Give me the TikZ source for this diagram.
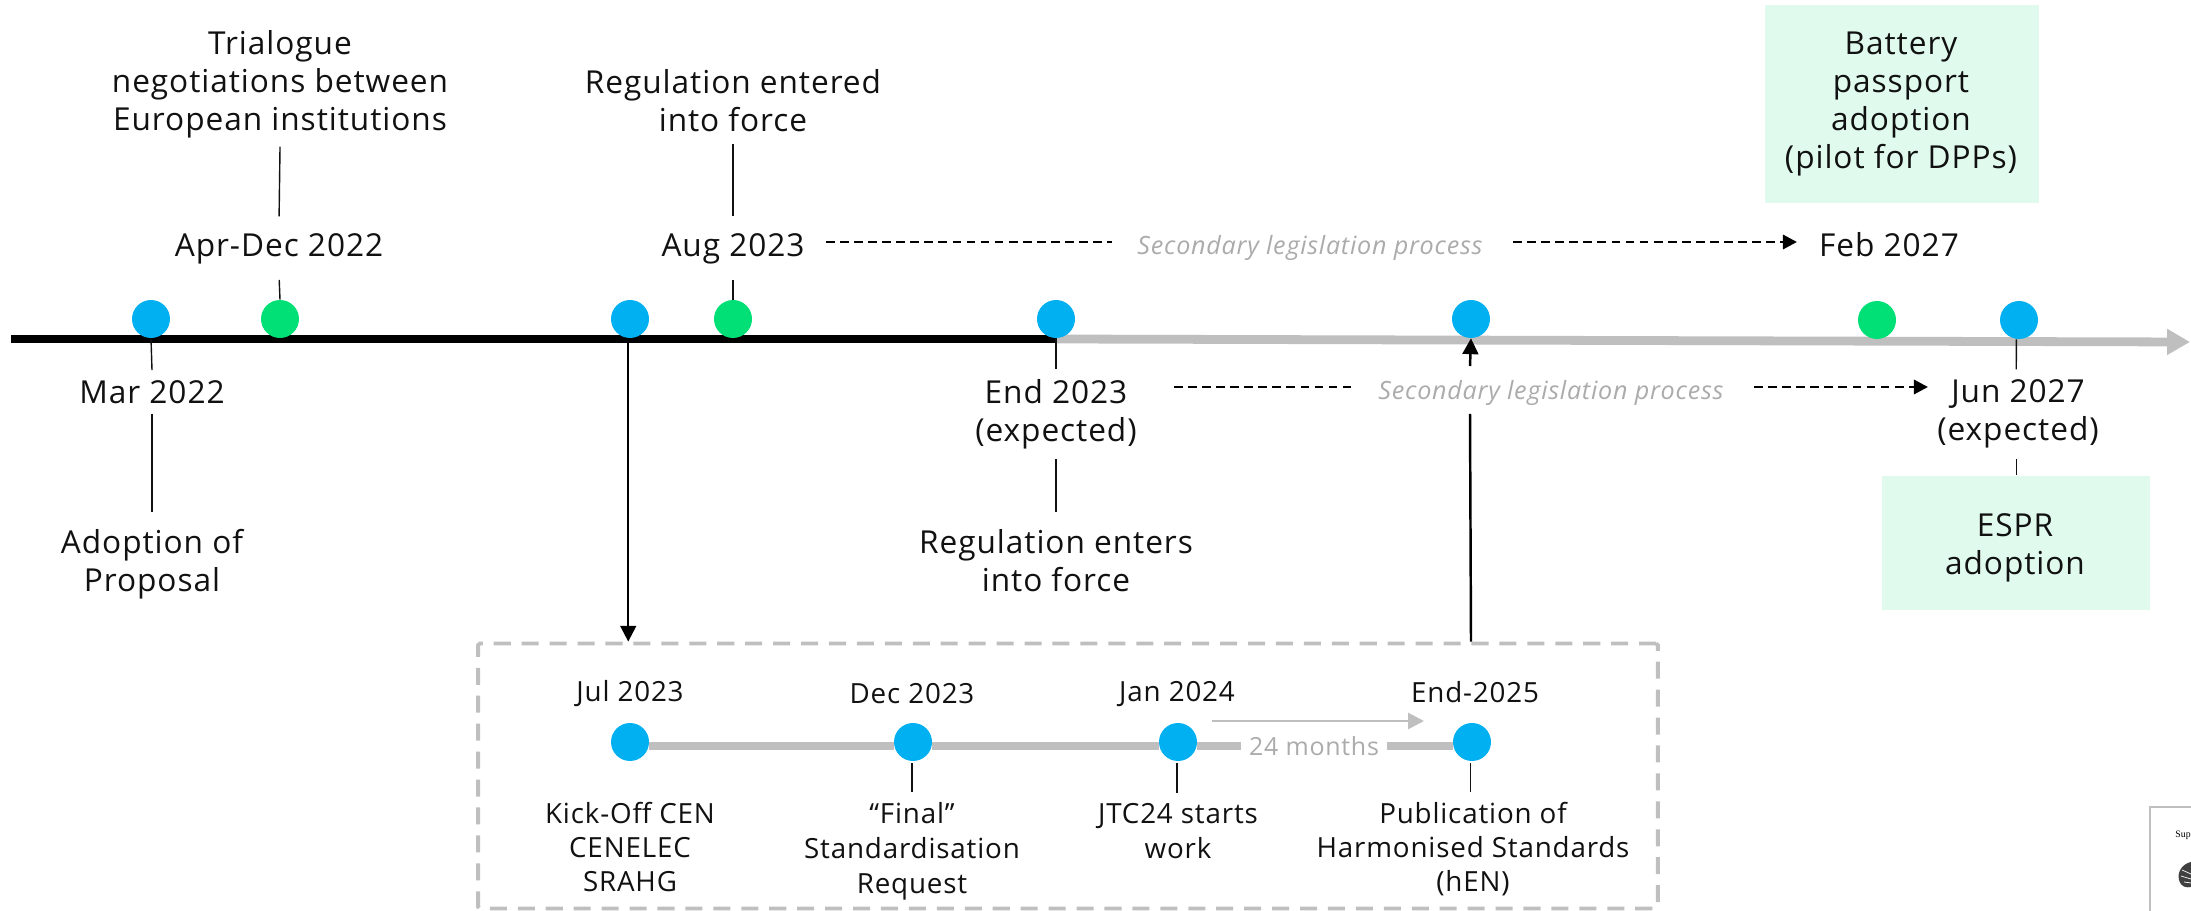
\documentclass[tikz,border=0pt]{standalone}
\usepackage{fontspec}
\setmainfont{Open Sans}[LetterSpace=3]
\usetikzlibrary{arrows.meta}
\definecolor{dotblue}{HTML}{00B0F0}
\definecolor{dotgreen}{HTML}{00E076}
\definecolor{linegrey}{HTML}{BFBFBF}
\definecolor{notegrey}{HTML}{ABABAB}
\definecolor{palegreen}{HTML}{E0FAEE}
\definecolor{inkblack}{HTML}{111111}
\tikzset{
    bluedot/.style={circle, fill=dotblue, minimum size=0.76cm, inner sep=0pt},
    greendot/.style={circle, fill=dotgreen, minimum size=0.76cm, inner sep=0pt},
    biglabel/.style={align=center, inner sep=0.2cm, text=inkblack, font=\fontsize{18}{21.7}\selectfont},
    smalllabel/.style={align=center, inner sep=0.2cm, text=inkblack, font=\fontsize{15.8}{19.2}\selectfont},
    notelabel/.style={inner sep=0.5cm, text=notegrey, font=\fontsize{14.3}{16}\selectfont\itshape},
    stem/.style={draw=inkblack, line width=0.8pt},
    dasharrow/.style={draw=black, line width=1.7pt, dash pattern=on 5pt off 3pt},
    dashtip/.style={-{Triangle[length=8pt, width=8pt]}},
    maparrow/.style={draw=black, line width=1.4pt, -{Triangle[length=9pt, width=9pt]}},
    greenbox/.style={fill=palegreen, inner sep=0pt}
}
\begin{document}
\begin{tikzpicture}[x=0.02cm, y=-0.02cm]
    \useasboundingbox (0, 0) rectangle (2191, 911);

    % Main timeline
    \coordinate (linestart) at (11, 339);
    \coordinate (linesplit) at (1056, 339);
    \coordinate (linetip) at (2190, 342);
    \draw[linegrey, line width=5pt, -{Triangle[length=13pt, width=14pt]}] (linesplit) -- (linetip);
    \draw[black, line width=4.5pt] (linestart) -- (linesplit);

    % Milestone dots
    \node[bluedot] (dotmar) at (151, 319) {};
    \node[greendot] (dotapr) at (280, 319) {};
    \node[bluedot] (dotjul) at (630, 319) {};
    \node[greendot] (dotaug) at (733, 319) {};
    \node[bluedot] (dotend) at (1056, 319) {};
    \node[bluedot] (dothen) at (1471, 319) {};
    \node[greendot] (dotfeb) at (1877, 320) {};
    \node[bluedot] (dotjun) at (2019, 320) {};

    % Green boxes
    \node[greenbox, minimum width=5.48cm, minimum height=3.98cm] (batterybox) at (1902, 104) {};
    \node[greenbox, minimum width=5.36cm, minimum height=2.7cm] (esprbox) at (2016, 543) {};

    % Labels above the line
    \node[biglabel] (trialogue) at (280, 84) {Trialogue\\negotiations between\\European institutions};
    \node[biglabel] (aprdec) at (279, 249) {Apr-Dec 2022};
    \node[biglabel] (entered) at (733, 101) {Regulation entered\\into force};
    \node[biglabel] (aug) at (733, 249) {Aug 2023};
    \node[biglabel] (feb) at (1889, 245) {Feb 2027};
    \node[biglabel] (battery) at (1901, 104) {Battery\\passport\\adoption\\(pilot for DPPs)};
    \node[notelabel] (secondtop) at (1310, 248) {Secondary legislation process};

    % Labels below the line
    \node[biglabel] (mar) at (152, 392) {Mar 2022};
    \node[biglabel] (proposal) at (152, 564) {Adoption of\\Proposal};
    \node[biglabel] (endexp) at (1056, 414) {End 2023\\(expected)};
    \node[biglabel] (enters) at (1056, 561) {Regulation enters\\into force};
    \node[biglabel] (junexp) at (2018, 414) {Jun 2027\\(expected)};
    \node[biglabel] (espr) at (2015, 548) {ESPR\\adoption};
    \node[notelabel] (secondlow) at (1551, 393) {Secondary legislation process};

    % Stems
    \draw[stem, shorten <=-1pt, shorten >=4pt] (trialogue.south) -- (aprdec.north);
    \draw[stem, shorten <=3pt] (aprdec.south) -- (dotapr.north);
    \draw[stem, shorten <=1pt, shorten >=4pt] (entered.south) -- (aug.north);
    \draw[stem, shorten <=3pt] (aug.south) -- (dotaug.north);
    \draw[stem] (dotmar.south) -- (mar.north);
    \draw[stem, shorten >=4pt] (mar.south) -- (proposal.north);
    \draw[stem] (dotend.south) -- (endexp.north);
    \draw[stem, shorten >=4pt] (endexp.south) -- (enters.north);
    \draw[stem] ([xshift=-1.5pt]dotjun.south) -- ([xshift=-1pt]junexp.north);
    \draw[stem] ([xshift=-1pt]junexp.south) -- ([xshift=-1pt]junexp.south |- esprbox.north);

    % Secondary legislation arrows
    \coordinate (augtext) at (826, 242);
    \coordinate (febtext) at (1797, 242);
    \coordinate (endtext) at (1174, 387);
    \coordinate (juntext) at (1928, 387);
    \draw[dasharrow] (augtext) -- (secondtop.west |- augtext);
    \draw[dasharrow, dashtip, shorten <=3pt] (secondtop.east |- febtext) -- (febtext);
    \draw[dasharrow] (endtext) -- (secondlow.west |- endtext);
    \draw[dasharrow, dashtip, shorten <=3pt] (secondlow.east |- juntext) -- (juntext);

    % Standardisation frame
    \node[draw=linegrey, line width=2.2pt, dash pattern=on 9.7pt off 6.2pt, rounded corners=1pt, minimum width=23.6cm, minimum height=5.3cm] (frame) at (1068, 776) {};

    % Arrows to and from the frame
    \draw[maparrow] ([xshift=-1pt]dotjul.south) -- ([xshift=-1pt]dotjul.south |- frame.north);
    \coordinate (upbreak) at (1470, 414);
    \coordinate (upresume) at (1470, 366);
    \draw[black, line width=1.4pt] (dothen |- frame.north) -- (upbreak);
    \draw[maparrow] (upresume) -- (dothen.south);

    % Inner timeline
    \node[bluedot] (stdjul) at (630, 742) {};
    \node[bluedot] (stddec) at (913, 742) {};
    \node[bluedot] (stdjan) at (1178, 742) {};
    \node[bluedot] (stdend) at (1472, 742) {};
    \node[inner sep=0.16cm, text=notegrey, font=\fontsize{14.2}{18}\selectfont] (months) at (1314, 746) {24 months};
    \draw[linegrey, line width=4.5pt] (stdjul.east |- months) -- (stddec.west |- months);
    \draw[linegrey, line width=4.5pt] (stddec.east |- months) -- (stdjan.west |- months);
    \draw[linegrey, line width=4.5pt] (stdjan.east |- months) -- (months.west);
    \draw[linegrey, line width=4.5pt] (months.east) -- (stdend.west |- months);
    \coordinate (spanstart) at (1212, 721);
    \coordinate (spanend) at (1424, 721);
    \draw[linegrey, line width=1.6pt, -{Triangle[length=9pt, width=9pt]}] (spanstart) -- (spanend);

    % Inner labels
    \node[smalllabel] (lbljul) at (630, 694) {Jul 2023};
    \node[smalllabel] (lbldec) at (912, 694) {Dec 2023};
    \node[smalllabel] (lbljan) at (1177, 694) {Jan 2024};
    \node[smalllabel] (lblend) at (1475, 692) {End-2025};
    \node[smalllabel] (kickoff) at (630, 847) {Kick-Off CEN\\CENELEC\\SRAHG};
    \node[smalllabel] (final) at (912, 851) {“Final”\\[0.6pt]Standardisation\\[0.6pt]Request};
    \node[smalllabel] (jtc) at (1178, 831) {JTC24 starts\\[0.6pt]work};
    \node[smalllabel] (publication) at (1473, 849) {Publication of\\Harmonised Standards\\(hEN)};

    % Inner stems
    \draw[stem, shorten <=1pt] ([xshift=-0.5pt]stddec.south) -- ([xshift=-0.5pt]stddec.south |- final.north);
    \draw[stem, shorten <=1pt] ([xshift=-0.5pt]stdjan.south) -- ([xshift=-0.5pt]stdjan.south |- jtc.north);
    \draw[stem, shorten <=1pt] ([xshift=-1pt]stdend.south) -- ([xshift=-1pt]stdend.south |- publication.north);

    % Cropped page in the corner
    \draw[linegrey, line width=1.5pt] (2220, 807) -- (2150, 807) -- (2150, 930);
    \node[anchor=west, inner sep=0pt, font=\fontsize{5.6}{7}\selectfont] (sup) at (2175, 835) {\fontspec{Liberation Serif}Sup};
    \fill[black!75] (2191, 862) .. controls (2182, 864) and (2177, 872) .. (2179, 880) .. controls (2181, 887) and (2186, 888) .. (2191, 887) -- cycle;
    \draw[white, line width=0.4pt] (2182, 870) -- (2191, 874) (2181, 876) -- (2191, 879) (2184, 882) -- (2191, 883);
\end{tikzpicture}
\end{document}
